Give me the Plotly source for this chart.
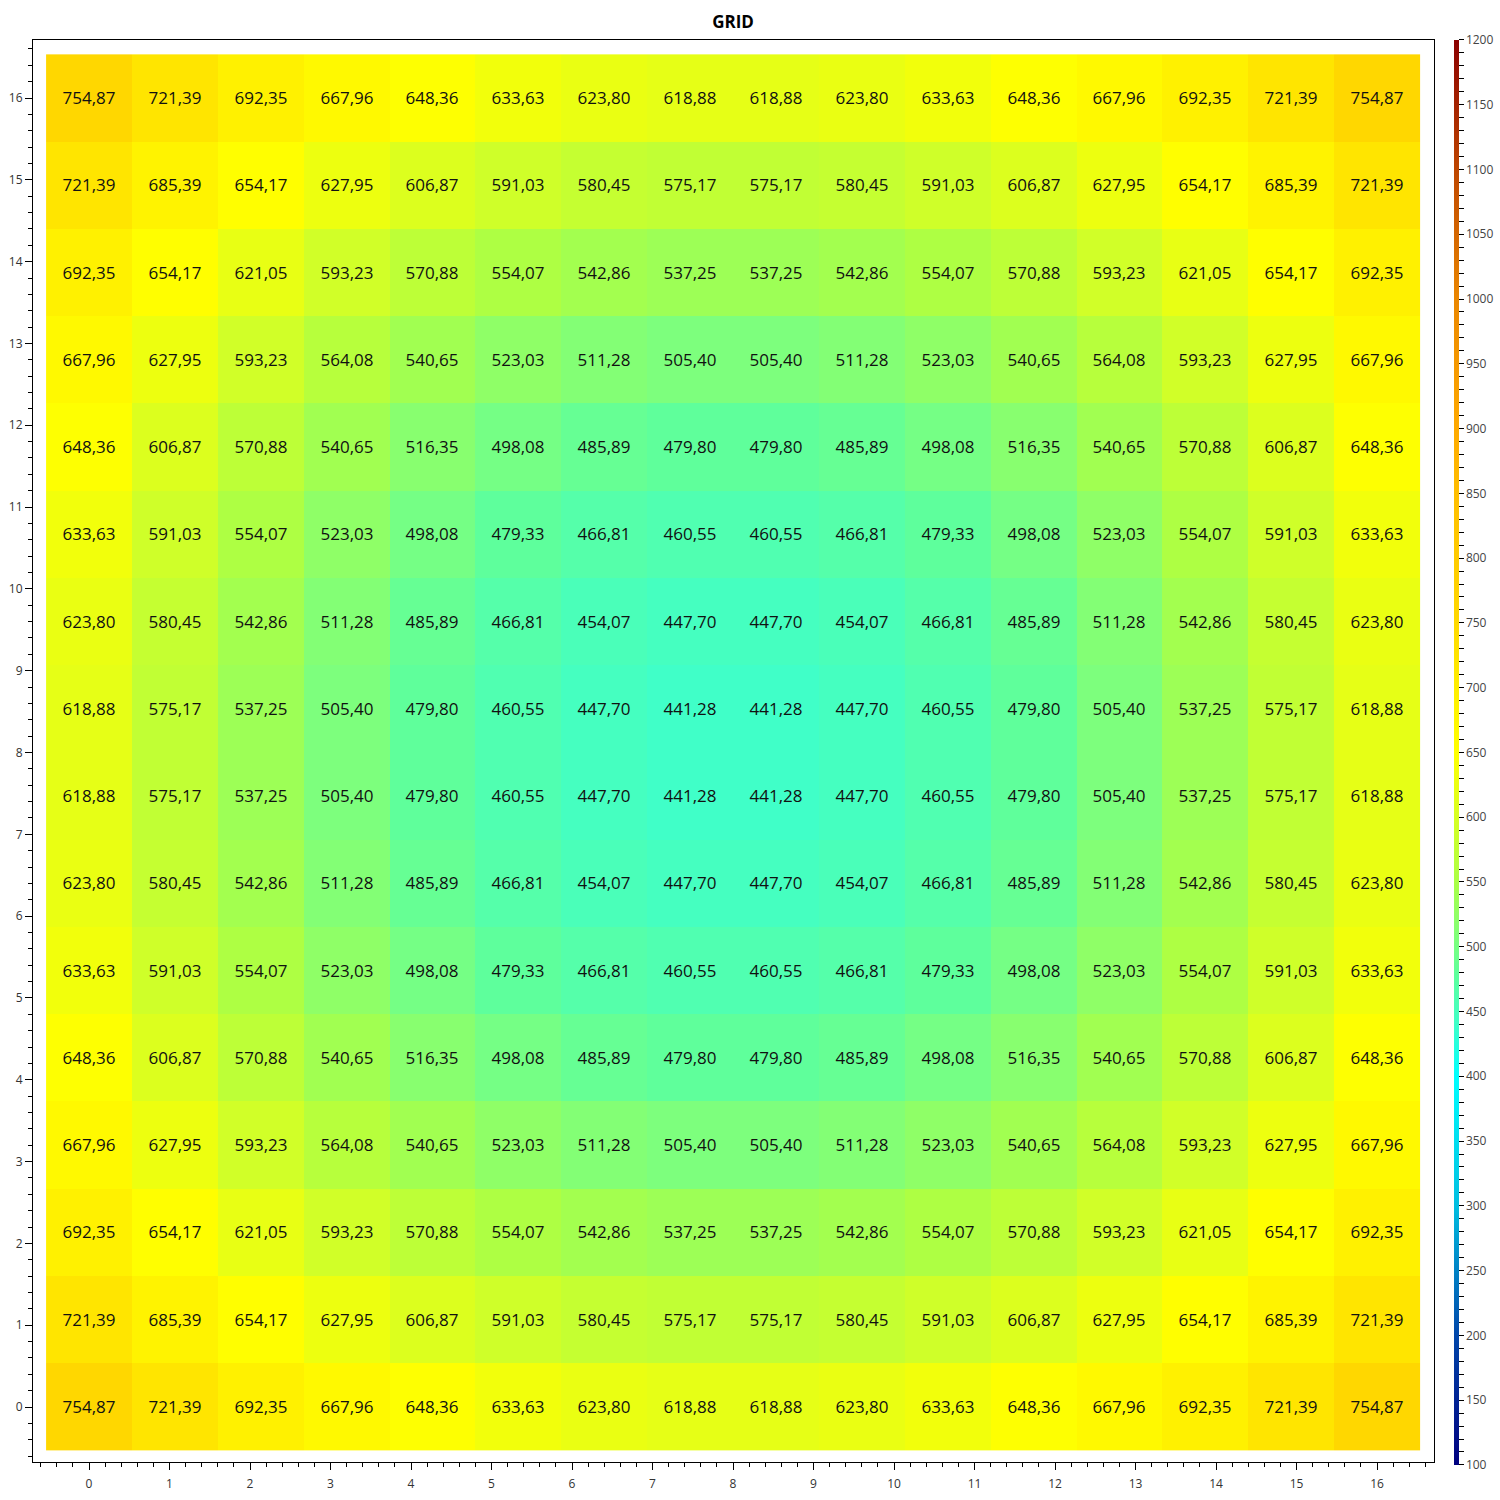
import plotly.graph_objects as go

# Grid values (rows from bottom y=0 to top y=16)
row0 = [754.87, 721.39, 692.35, 667.96, 648.36, 633.63, 623.80, 618.88, 618.88, 623.80, 633.63, 648.36, 667.96, 692.35, 721.39, 754.87]
row1 = [721.39, 685.39, 654.17, 627.95, 606.87, 591.03, 580.45, 575.17, 575.17, 580.45, 591.03, 606.87, 627.95, 654.17, 685.39, 721.39]
row2 = [692.35, 654.17, 621.05, 593.23, 570.88, 554.07, 542.86, 537.25, 537.25, 542.86, 554.07, 570.88, 593.23, 621.05, 654.17, 692.35]
row3 = [667.96, 627.95, 593.23, 564.08, 540.65, 523.03, 511.28, 505.40, 505.40, 511.28, 523.03, 540.65, 564.08, 593.23, 627.95, 667.96]
row4 = [648.36, 606.87, 570.88, 540.65, 516.35, 498.08, 485.89, 479.80, 479.80, 485.89, 498.08, 516.35, 540.65, 570.88, 606.87, 648.36]
row5 = [633.63, 591.03, 554.07, 523.03, 498.08, 479.33, 466.81, 460.55, 460.55, 466.81, 479.33, 498.08, 523.03, 554.07, 591.03, 633.63]
row6 = [623.80, 580.45, 542.86, 511.28, 485.89, 466.81, 454.07, 447.70, 447.70, 454.07, 466.81, 485.89, 511.28, 542.86, 580.45, 623.80]
row7 = [618.88, 575.17, 537.25, 505.40, 479.80, 460.55, 447.70, 441.28, 441.28, 447.70, 460.55, 479.80, 505.40, 537.25, 575.17, 618.88]
row8 = [618.88, 575.17, 537.25, 505.40, 479.80, 460.55, 447.70, 441.28, 441.28, 447.70, 460.55, 479.80, 505.40, 537.25, 575.17, 618.88]
row9 = [623.80, 580.45, 542.86, 511.28, 485.89, 466.81, 454.07, 447.70, 447.70, 454.07, 466.81, 485.89, 511.28, 542.86, 580.45, 623.80]
row10 = [633.63, 591.03, 554.07, 523.03, 498.08, 479.33, 466.81, 460.55, 460.55, 466.81, 479.33, 498.08, 523.03, 554.07, 591.03, 633.63]
row11 = [648.36, 606.87, 570.88, 540.65, 516.35, 498.08, 485.89, 479.80, 479.80, 485.89, 498.08, 516.35, 540.65, 570.88, 606.87, 648.36]
row12 = [667.96, 627.95, 593.23, 564.08, 540.65, 523.03, 511.28, 505.40, 505.40, 511.28, 523.03, 540.65, 564.08, 593.23, 627.95, 667.96]
row13 = [692.35, 654.17, 621.05, 593.23, 570.88, 554.07, 542.86, 537.25, 537.25, 542.86, 554.07, 570.88, 593.23, 621.05, 654.17, 692.35]
row14 = [721.39, 685.39, 654.17, 627.95, 606.87, 591.03, 580.45, 575.17, 575.17, 580.45, 591.03, 606.87, 627.95, 654.17, 685.39, 721.39]
row15 = [754.87, 721.39, 692.35, 667.96, 648.36, 633.63, 623.80, 618.88, 618.88, 623.80, 633.63, 648.36, 667.96, 692.35, 721.39, 754.87]
z = [row0, row1, row2, row3, row4, row5, row6, row7, row8, row9, row10, row11, row12, row13, row14, row15]

zmin, zmax = 100, 1200
axis_ticks = list(range(0, 17))
cbar_ticks = list(range(100, 1201, 10))
cbar_text = [str(v) if v % 50 == 0 else "" for v in cbar_ticks]

def n(v):
    return (v - zmin) / (zmax - zmin)

colorscale = [
    [n(100), "rgb(0,0,128)"],
    [n(200), "rgb(0,70,170)"],
    [n(300), "rgb(0,190,225)"],
    [n(400), "rgb(0,255,255)"],
    [n(441), "rgb(64,255,200)"],
    [n(480), "rgb(95,255,155)"],
    [n(505), "rgb(125,255,125)"],
    [n(550), "rgb(170,255,70)"],
    [n(600), "rgb(215,255,35)"],
    [n(650), "rgb(255,255,0)"],
    [n(700), "rgb(255,238,0)"],
    [n(755), "rgb(255,215,0)"],
    [n(850), "rgb(255,190,0)"],
    [n(900), "rgb(255,170,0)"],
    [n(1000), "rgb(235,135,0)"],
    [n(1100), "rgb(190,70,0)"],
    [n(1200), "rgb(139,0,0)"],
]

fig = go.Figure(go.Heatmap(
    z=z, x0=0, dx=16/15, y0=0, dy=16/15,
    zmin=zmin, zmax=zmax, colorscale=colorscale,
    texttemplate="%{z:.2f}",
    textfont=dict(family="Open Sans", size=17, color="#111111"),
    colorbar=dict(
        thickness=5, x=1.0143, xanchor="left", len=1.002, lenmode="fraction",
        y=0.499, yanchor="middle", ypad=0, xpad=0, outlinewidth=0,
        tickmode="array", tickvals=cbar_ticks, ticktext=cbar_text,
        ticks="outside", ticklen=5, tickcolor="black", tickwidth=1,
        tickfont=dict(family="Open Sans", size=12, color="#444444"),
    ),
))

axis_common = dict(
    showgrid=False, zeroline=False, showline=True, linecolor="black", linewidth=1,
    mirror=True, ticks="outside", ticklen=7, tickcolor="black", tickwidth=1,
    tickmode="array", tickvals=axis_ticks, automargin=False,
    tickfont=dict(family="Open Sans", size=12, color="#333333"),
    minor=dict(dtick=0.2, tick0=0, ticklen=4, tickcolor="black", ticks="outside", showgrid=False),
)

fig.update_layout(
    width=1500, height=1500,
    margin=dict(l=33, r=66, t=40, b=38, autoexpand=False),
    paper_bgcolor="white", plot_bgcolor="white",
    separators=",.",
    title=dict(text="<b>GRID</b>", x=0.4887, xanchor="center", y=1 - 22/1500, yanchor="middle",
               font=dict(family="Open Sans", size=17, color="black")),
    xaxis=dict(range=[-0.696, 16.708], ticklabelstandoff=4, **axis_common),
    yaxis=dict(range=[-0.672, 16.709], **axis_common),
)

fig.write_html("out.html", config={"displayModeBar": False},
               post_script="document.body.style.margin='0';")
